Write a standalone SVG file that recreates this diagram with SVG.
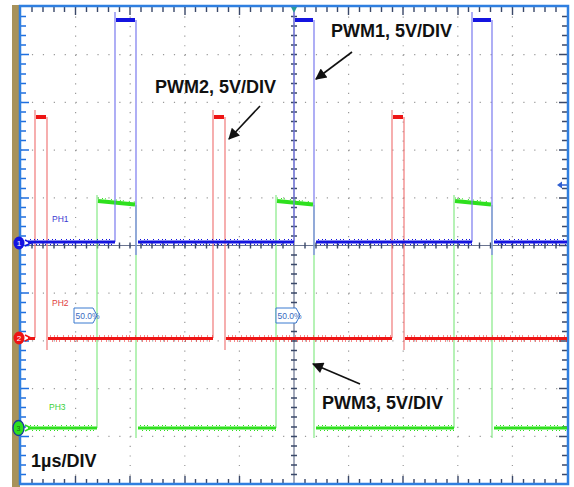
<svg xmlns="http://www.w3.org/2000/svg" width="574" height="487" viewBox="0 0 574 487">
<defs>
<style>
.dotv{stroke:#9a9a9a;stroke-width:1.2;stroke-dasharray:1.2 8.34;fill:none}
.doth{stroke:#9a9a9a;stroke-width:1.2;stroke-dasharray:1.2 9.72;fill:none}
.tk{stroke:#3a4868;stroke-width:1.4;fill:none}
.tkb{stroke:#1f6fe0;stroke-width:1.5;fill:none}
.lbl{font-family:"Liberation Sans",Arial,sans-serif;font-weight:bold;font-size:18px;fill:#111}
.ph{font-family:"Liberation Sans",Arial,sans-serif;font-size:8.5px}
.pct{font-family:"Liberation Sans",Arial,sans-serif;font-size:8.5px;fill:#3a6ac0}
.tag{fill:#fff;stroke:#3a7ad0;stroke-width:1}
.bE{stroke:#7a7aee;stroke-width:1.2;fill:none}
.bT{stroke:#1414e0;stroke-width:3;fill:none}
.bH{stroke:#1414e0;stroke-width:4;fill:none}
.bN{stroke:#1414e0;stroke-width:1;fill:none;stroke-dasharray:1 3 1 2 1 5 1 4}
.rE{stroke:#f07a7a;stroke-width:1.2;fill:none}
.rT{stroke:#ee1414;stroke-width:3;fill:none}
.rH{stroke:#ee1414;stroke-width:4;fill:none}
.rN{stroke:#ee1414;stroke-width:1;fill:none;stroke-dasharray:1 3 1 2 1 5 1 4}
.gE{stroke:#86ea86;stroke-width:1.2;fill:none}
.gT{stroke:#2ee01e;stroke-width:3;fill:none}
.gH{stroke:#2ee01e;stroke-width:4;fill:none}
.gN{stroke:#2ee01e;stroke-width:1;fill:none;stroke-dasharray:1 3 1 2 1 5 1 4}
.arr{stroke:#111;stroke-width:1.6;fill:none;marker-end:url(#ah)}
</style>
<marker id="ah" viewBox="0 0 10 10" refX="9" refY="5" markerWidth="9" markerHeight="7" markerUnits="strokeWidth" orient="auto">
<path d="M0,0 L10,5 L0,10 Z" fill="#111"/>
</marker>
</defs>
<rect width="574" height="487" fill="#fff"/>
<rect x="12" y="5" width="8" height="482" fill="#a8925a"/>

<g id="grid">
<path class="dotv" d="M75.6,7V484M130.2,7V484M184.8,7V484M239.4,7V484M348.6,7V484M403.2,7V484M457.8,7V484M512.4,7V484"/>
<path class="doth" d="M21,54.7H567M21,102.4H567M21,150.1H567M21,197.8H567M21,293.2H567M21,340.9H567M21,388.6H567M21,436.3H567"/>
<path stroke="#6a7490" stroke-width="1.2" d="M294,7V484M21,245.5H567"/>
<path class="tk" d="M291,16.5h6M291,26h6M291,35.5h6M291,45h6M291,54.5h6M291,64h6M291,74h6M291,83.5h6M291,93h6M291,102.5h6M291,112h6M291,121.5h6M291,131h6M291,140.5h6M291,150h6M291,159.5h6M291,169h6M291,178.5h6M291,188.5h6M291,198h6M291,207.5h6M291,217h6M291,226.5h6M291,236h6M291,255h6M291,264.5h6M291,274h6M291,283.5h6M291,293h6M291,302.5h6M291,312.5h6M291,322h6M291,331.5h6M291,341h6M291,350.5h6M291,360h6M291,369.5h6M291,379h6M291,388.5h6M291,398h6M291,407.5h6M291,417h6M291,427h6M291,436.5h6M291,446h6M291,455.5h6M291,465h6M291,474.5h6"/>
<path class="tk" d="M32,242.5v6M43,242.5v6M54,242.5v6M64.5,242.5v6M75.5,242.5v6M86.5,242.5v6M97.5,242.5v6M108.5,242.5v6M119.5,242.5v6M130,242.5v6M141,242.5v6M152,242.5v6M163,242.5v6M174,242.5v6M185,242.5v6M195.5,242.5v6M206.5,242.5v6M217.5,242.5v6M228.5,242.5v6M239.5,242.5v6M250.5,242.5v6M261,242.5v6M272,242.5v6M283,242.5v6M305,242.5v6M316,242.5v6M327,242.5v6M337.5,242.5v6M348.5,242.5v6M359.5,242.5v6M370.5,242.5v6M381.5,242.5v6M392.5,242.5v6M403,242.5v6M414,242.5v6M425,242.5v6M436,242.5v6M447,242.5v6M458,242.5v6M468.5,242.5v6M479.5,242.5v6M490.5,242.5v6M501.5,242.5v6M512.5,242.5v6M523.5,242.5v6M534,242.5v6M545,242.5v6M556,242.5v6"/>
<path class="tkb" d="M21,16.5h5M21,26h5M21,35.5h5M21,45h5M21,54.5h8M21,64h5M21,74h5M21,83.5h5M21,93h5M21,102.5h8M21,112h5M21,121.5h5M21,131h5M21,140.5h5M21,150h8M21,159.5h5M21,169h5M21,178.5h5M21,188.5h5M21,198h8M21,207.5h5M21,217h5M21,226.5h5M21,236h5M21,245.5h8M21,255h5M21,264.5h5M21,274h5M21,283.5h5M21,293h8M21,302.5h5M21,312.5h5M21,322h5M21,331.5h5M21,341h8M21,350.5h5M21,360h5M21,369.5h5M21,379h5M21,388.5h8M21,398h5M21,407.5h5M21,417h5M21,427h5M21,436.5h8M21,446h5M21,455.5h5M21,465h5M21,474.5h5"/>
<path class="tk" d="M567,16.5h-5M567,26h-5M567,35.5h-5M567,45h-5M567,54.5h-8M567,64h-5M567,74h-5M567,83.5h-5M567,93h-5M567,102.5h-8M567,112h-5M567,121.5h-5M567,131h-5M567,140.5h-5M567,150h-8M567,159.5h-5M567,169h-5M567,178.5h-5M567,188.5h-5M567,198h-8M567,207.5h-5M567,217h-5M567,226.5h-5M567,236h-5M567,245.5h-8M567,255h-5M567,264.5h-5M567,274h-5M567,283.5h-5M567,293h-8M567,302.5h-5M567,312.5h-5M567,322h-5M567,331.5h-5M567,341h-8M567,350.5h-5M567,360h-5M567,369.5h-5M567,379h-5M567,388.5h-8M567,398h-5M567,407.5h-5M567,417h-5M567,427h-5M567,436.5h-8M567,446h-5M567,455.5h-5M567,465h-5M567,474.5h-5"/>
<path class="tk" d="M32,7v5M43,7v5M54,7v5M64.5,7v5M75.5,7v8M86.5,7v5M97.5,7v5M108.5,7v5M119.5,7v5M130,7v8M141,7v5M152,7v5M163,7v5M174,7v5M185,7v8M195.5,7v5M206.5,7v5M217.5,7v5M228.5,7v5M239.5,7v8M250.5,7v5M261,7v5M272,7v5M283,7v5M305,7v5M316,7v5M327,7v5M337.5,7v5M348.5,7v8M359.5,7v5M370.5,7v5M381.5,7v5M392.5,7v5M403,7v8M414,7v5M425,7v5M436,7v5M447,7v5M458,7v8M468.5,7v5M479.5,7v5M490.5,7v5M501.5,7v5M512.5,7v8M523.5,7v5M534,7v5M545,7v5M556,7v5"/>
<path class="tk" d="M32,484v-5M43,484v-5M54,484v-5M64.5,484v-5M75.5,484v-8M86.5,484v-5M97.5,484v-5M108.5,484v-5M119.5,484v-5M130,484v-8M141,484v-5M152,484v-5M163,484v-5M174,484v-5M185,484v-8M195.5,484v-5M206.5,484v-5M217.5,484v-5M228.5,484v-5M239.5,484v-8M250.5,484v-5M261,484v-5M272,484v-5M283,484v-5M305,484v-5M316,484v-5M327,484v-5M337.5,484v-5M348.5,484v-8M359.5,484v-5M370.5,484v-5M381.5,484v-5M392.5,484v-5M403,484v-8M414,484v-5M425,484v-5M436,484v-5M447,484v-5M458,484v-8M468.5,484v-5M479.5,484v-5M490.5,484v-5M501.5,484v-5M512.5,484v-8M523.5,484v-5M534,484v-5M545,484v-5M556,484v-5"/>
<rect x="20" y="6" width="548" height="478" fill="none" stroke="#2f7fe0" stroke-width="2.5"/>
<path d="M291,7 L297,7 L294,13 Z" fill="#2a9a9a"/>
</g>

<g id="ch3-trace">
<path class="gE" d="M97,428V195M136,205V438M276,428V195M314,205V438M454,428V195M492,205V438"/>
<path class="gT" d="M28,428H97M138,428H276M316,428H454M494,428H567"/>
<path class="gN" d="M30,425.5H97M140,425.5H276M318,425.5H454M496,425.5H567M32,430.5H97M142,430.5H276M320,430.5H454M498,430.5H567"/>
<path class="gH" d="M98,201L135,204.5M277,201L313,204.5M455,201L491,204.5"/>
<path class="gN" d="M98,198L135,202M277,198L313,202M455,198L491,202"/>
</g>

<g id="ch2-trace">
<path class="rE" d="M35,338V110M47,117V350M213,338V110M225,117V350M392,338V110M404,117V350"/>
<path class="rT" d="M28,338.5H35M48,338.5H213M226,338.5H392M405,338.5H567"/>
<path class="rN" d="M50,336H213M228,336H392M407,336H567M52,341H213M230,341H392M409,341H567"/>
<path class="rH" d="M36,117H46M214,117H224M393,117H403"/>
</g>

<g id="ch1-trace">
<path class="bE" d="M115,242V12M136,20V255M294,242V12M314,20V255M472,242V12M492,20V255"/>
<path class="bT" d="M28,242H115M138,242H294M316,242H472M494,242H567"/>
<path class="bN" d="M30,239.5H115M140,239.5H294M318,239.5H472M496,239.5H567M32,244.5H115M142,244.5H294M320,244.5H472M498,244.5H567"/>
<path class="bH" d="M116,20H135M295,20H313M473,20H491"/>
</g>

<g id="markers">
<ellipse cx="19" cy="243" rx="5.5" ry="6.5" fill="#1414e0"/>
<text x="19" y="246" font-family="Liberation Sans,Arial,sans-serif" font-size="8" fill="#fff" text-anchor="middle">1</text>
<path d="M25,240 L31,243 L25,246" stroke="#1414e0" stroke-width="1.5" fill="none"/>
<ellipse cx="19" cy="338" rx="5.5" ry="6.5" fill="#ee1414"/>
<text x="19" y="341" font-family="Liberation Sans,Arial,sans-serif" font-size="8" fill="#fff" text-anchor="middle">2</text>
<path d="M25,335 L31,338 L25,341" stroke="#ee1414" stroke-width="1.5" fill="none"/>
<ellipse cx="18.5" cy="428" rx="5.5" ry="7.5" fill="#2ee01e" stroke="#1a3a9a" stroke-width="1.3"/>
<text x="18.5" y="431" font-family="Liberation Sans,Arial,sans-serif" font-size="7" fill="#1a6a1a" text-anchor="middle">3</text>
<path d="M25,425 L31,428 L25,431" stroke="#2ee01e" stroke-width="1.5" fill="none"/>
<path d="M567,185H561" stroke="#2f5fd0" stroke-width="1.5"/>
<path d="M557,185 L562,181.5 L562,188.5 Z" fill="#2f5fd0"/>
</g>

<g id="ch-labels">
<text class="ph" x="52" y="222" fill="#3a3ad0">PH1</text>
<text class="ph" x="52" y="306" fill="#e04040">PH2</text>
<text class="ph" x="49" y="410" fill="#3ad03a">PH3</text>
</g>

<g id="level-tags">
<path class="tag" d="M74,308H93L97,315.5L93,323H74Z"/>
<text class="pct" x="75.5" y="318.5">50.0%</text>
<path class="tag" d="M276,308H296L300,315.5L296,323H276Z"/>
<text class="pct" x="277.5" y="318.5">50.0%</text>
</g>

<g id="connectors">
<path class="arr" d="M352,52L316,79"/>
<path class="arr" d="M260,106L229,139"/>
<path class="arr" d="M360,384L313,364"/>
</g>

<g id="annotations">
<text class="lbl" x="331" y="37">PWM1, 5V/DIV</text>
<text class="lbl" x="155" y="93">PWM2, 5V/DIV</text>
<text class="lbl" x="322" y="409">PWM3, 5V/DIV</text>
<text class="lbl" x="31" y="467">1µs/DIV</text>
</g>
</svg>
